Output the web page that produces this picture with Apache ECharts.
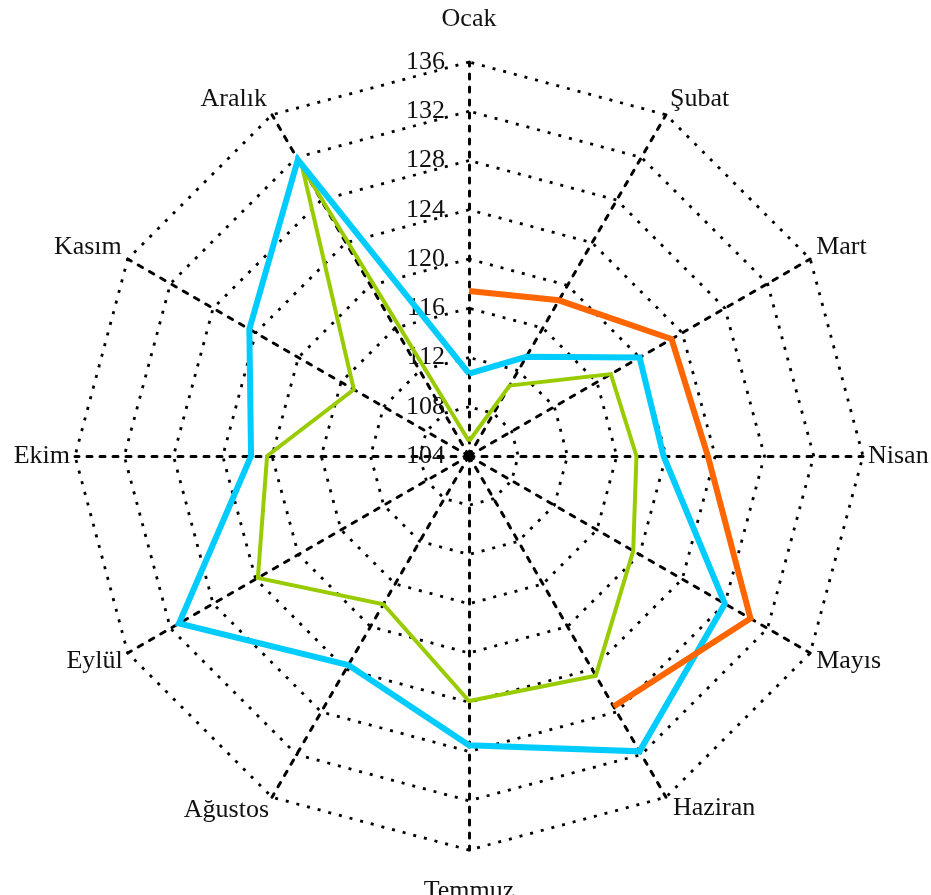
<!DOCTYPE html>
<html><head><meta charset="utf-8">
<script src="https://cdn.jsdelivr.net/npm/echarts@6/dist/echarts.min.js"></script>
<style>html,body{margin:0;padding:0;background:#fff}#c{width:931px;height:895px}</style>
</head><body><div id="c"></div>
<script>
const months = ['Ocak','Şubat','Mart','Nisan','Mayıs','Haziran','Temmuz','Ağustos','Eylül','Ekim','Kasım','Aralık'];
const tickMin = 104;
const tickMax = 136;
const tickStep = 4;
const seriesOrange = [117.4, 118.6, 123.0, 123.4, 130.4, 127.5];
const seriesBlue = [110.7, 113.3, 120.0, 119.8, 128.0, 131.7, 127.5, 123.6, 131.2, 121.7, 124.6, 131.8];
const seriesGreen = [105.2, 110.6, 117.3, 117.6, 119.4, 124.6, 123.9, 117.9, 123.8, 120.4, 114.8, 131.1];

const FONT = '"Liberation Serif", "DejaVu Serif", serif';
const TXT = '#111';
const CX = 469, CY = 456, R = 394;

// label offsets [top, right, bottom, left] per month
const namePad = {
  'Ocak': [0,0,30,0], 'Şubat': [0,0,32,4], 'Mart': [0,0,24,6], 'Nisan': [0,0,0,5],
  'Mayıs': [16,0,0,6], 'Haziran': [22,0,0,7], 'Temmuz': [28,0,0,0], 'Ağustos': [25,3,0,0],
  'Eylül': [16,5,0,0], 'Ekim': [0,5,0,0], 'Kasım': [0,6,24,0], 'Aralık': [0,5,32,0]
};
const rich = {};
months.forEach((m, i) => {
  rich['m' + i] = { fontFamily: FONT, fontSize: 26, color: TXT, padding: namePad[m] };
});

// radar goes counterclockwise; reverse order after Ocak so Şubat sits upper-right
const order = [0].concat(months.map((_, i) => i).slice(1).reverse());
const indicator = order.map((mi, k) => {
  const ind = { name: months[mi], min: tickMin, max: tickMax };
  if (k === 0) {
    ind.axisLabel = { show: true, fontSize: 26, fontFamily: FONT, color: TXT, margin: 24 };
  }
  return ind;
});

function polarData(values, close) {
  const d = values.map((v, i) => [v, i * 360 / months.length]);
  if (close) d.push([values[0], 360]);
  return d;
}

const chart = echarts.init(document.getElementById('c'), null, { renderer: 'canvas' });
chart.setOption({
  animation: false,
  backgroundColor: '#fff',
  radar: {
    center: [CX, CY],
    radius: R,
    shape: 'polygon',
    splitNumber: (tickMax - tickMin) / tickStep,
    indicator: indicator,
    nameGap: 0,
    axisName: {
      fontFamily: FONT, fontSize: 26, color: TXT,
      formatter: (name) => '{m' + months.indexOf(name) + '|' + name + '}',
      rich: rich
    },
    axisLabel: { show: false },
    axisTick: { show: false },
    axisLine: { show: true, lineStyle: { color: '#000', width: 3, type: [5, 8] } },
    splitLine: { show: true, lineStyle: { color: '#000', width: 2.8, type: [3, 8] } },
    splitArea: { show: false }
  },
  polar: { center: [CX, CY], radius: R },
  angleAxis: { type: 'value', min: 0, max: 360, startAngle: 90, clockwise: true, show: false },
  radiusAxis: { type: 'value', min: tickMin, max: tickMax, show: false },
  series: [
    { type: 'line', coordinateSystem: 'polar', data: polarData(seriesGreen, true), symbol: 'none',
      lineStyle: { color: '#99CC00', width: 4, join: 'miter' }, z: 3 },
    { type: 'line', coordinateSystem: 'polar', data: polarData(seriesBlue, true), symbol: 'none',
      lineStyle: { color: '#00CCFF', width: 6, join: 'miter' }, z: 4 },
    { type: 'line', coordinateSystem: 'polar', data: polarData(seriesOrange, false), symbol: 'none',
      lineStyle: { color: '#FF6600', width: 6, join: 'miter' }, z: 5 }
  ]
});
</script>
</body></html>
